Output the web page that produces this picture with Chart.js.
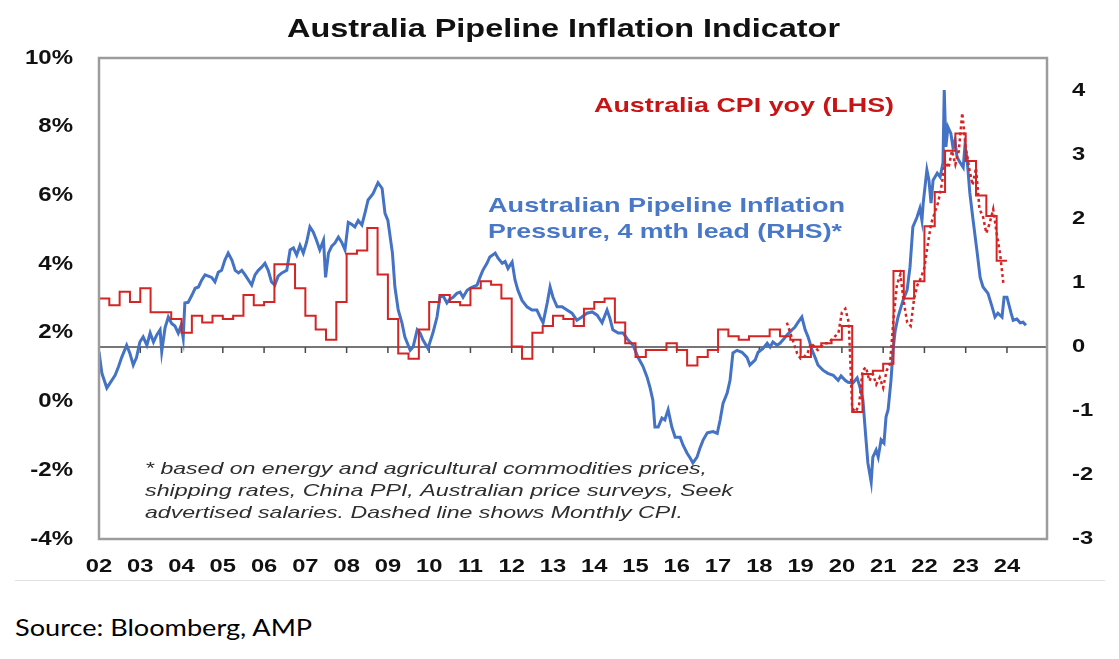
<!DOCTYPE html>
<html>
<head>
<meta charset="utf-8">
<script src="https://cdn.jsdelivr.net/npm/chart.js@4.4.1/dist/chart.umd.min.js"></script>
<style>
  html, body { margin: 0; padding: 0; background: #fff; }
  #wrap { position: relative; width: 1119px; height: 580px; }
  #rule { position: absolute; left: 15px; top: 580px; width: 1090px; border-top: 1px solid #e0e0e0; }
  #source { position: absolute; left: 15px; top: 612px; font-family: Lato, 'Open Sans', sans-serif; font-size: 24px; color: #000;
            white-space: nowrap; transform: scaleX(1.13); transform-origin: left top; }
</style>
</head>
<body>
<div id="wrap"><canvas id="chart" width="1119" height="580"></canvas></div>
<div id="rule"></div>
<div id="source">Source: Bloomberg, AMP</div>
<script>
// Australian Pipeline Inflation Pressure, 4 mth lead (RHS)
const blueDates = [
  2002.00, 2002.07, 2002.19, 2002.27, 2002.39, 2002.47, 2002.55, 2002.67, 2002.75, 2002.83, 2002.91, 2002.99,
  2003.07, 2003.16, 2003.24, 2003.32, 2003.40, 2003.48, 2003.52, 2003.60, 2003.68, 2003.76, 2003.84, 2003.92, 2003.99,
  2004.04, 2004.08, 2004.16, 2004.25, 2004.33, 2004.41, 2004.49, 2004.57, 2004.65, 2004.73, 2004.81, 2004.89, 2004.97,
  2005.05, 2005.13, 2005.22, 2005.30, 2005.38, 2005.46, 2005.54, 2005.62, 2005.70, 2005.78, 2005.86, 2005.94,
  2006.02, 2006.10, 2006.18, 2006.26, 2006.34, 2006.43, 2006.55, 2006.63, 2006.71, 2006.79, 2006.87, 2006.95,
  2007.03, 2007.11, 2007.19, 2007.27, 2007.35, 2007.44, 2007.49, 2007.56, 2007.64, 2007.72, 2007.80, 2007.88, 2007.96,
  2008.04, 2008.12, 2008.20, 2008.28, 2008.37, 2008.45, 2008.52, 2008.64, 2008.76, 2008.86, 2008.93,
  2009.00, 2009.11, 2009.17, 2009.25, 2009.34, 2009.41, 2009.54, 2009.61, 2009.71, 2009.78, 2009.85, 2009.97,
  2010.09, 2010.19, 2010.26, 2010.34, 2010.43, 2010.50, 2010.58, 2010.67, 2010.75, 2010.82, 2010.92, 2010.99,
  2011.06, 2011.16, 2011.23, 2011.30, 2011.40, 2011.47, 2011.60, 2011.67, 2011.77, 2011.84, 2011.91,
  2012.01, 2012.08, 2012.15, 2012.25, 2012.37, 2012.49, 2012.61, 2012.69, 2012.76, 2012.86, 2012.93,
  2013.00, 2013.10, 2013.22, 2013.34, 2013.46, 2013.58, 2013.70, 2013.82, 2013.95,
  2014.07, 2014.19, 2014.31, 2014.38, 2014.45, 2014.58, 2014.70, 2014.82, 2014.94,
  2015.06, 2015.18, 2015.28, 2015.35, 2015.42, 2015.47, 2015.55, 2015.64, 2015.71, 2015.79, 2015.88, 2015.96,
  2016.08, 2016.15, 2016.25, 2016.32, 2016.39, 2016.49, 2016.56, 2016.64, 2016.74, 2016.80, 2016.88, 2016.98,
  2017.05, 2017.12, 2017.22, 2017.29, 2017.36, 2017.46, 2017.58, 2017.70, 2017.77, 2017.90, 2017.97,
  2018.09, 2018.19, 2018.26, 2018.33, 2018.43, 2018.50, 2018.57, 2018.67, 2018.79, 2018.86, 2018.94,
  2019.03, 2019.11, 2019.18, 2019.28, 2019.35, 2019.42, 2019.54, 2019.66, 2019.79, 2019.91, 2019.98,
  2020.08, 2020.15, 2020.27, 2020.37, 2020.44, 2020.51, 2020.58, 2020.63, 2020.71, 2020.75, 2020.83, 2020.88, 2020.95,
  2021.02, 2021.07, 2021.12, 2021.19, 2021.24, 2021.29, 2021.36, 2021.48, 2021.58, 2021.65, 2021.72, 2021.82, 2021.89, 2021.94, 2021.97,
  2022.06, 2022.11, 2022.16, 2022.21, 2022.31, 2022.38, 2022.45, 2022.48, 2022.52, 2022.57, 2022.64, 2022.69, 2022.74, 2022.79, 2022.86, 2022.94, 2022.98,
  2023.03, 2023.10, 2023.18, 2023.27, 2023.35, 2023.42, 2023.54, 2023.64, 2023.71, 2023.78, 2023.88, 2023.93,
  2024.00, 2024.10, 2024.15, 2024.24, 2024.32, 2024.39, 2024.46
];
const blueValues = [
  -0.07, -0.41, -0.64, -0.56, -0.44, -0.31, -0.16, 0.03, -0.10, -0.28, -0.16, 0.08,
  0.16, 0.03, 0.22, 0.08, 0.19, 0.27, -0.07, 0.30, 0.47, 0.37, 0.33, 0.22, 0.34,
  0.14, 0.69, 0.70, 0.81, 0.92, 0.94, 1.05, 1.13, 1.11, 1.09, 1.02, 1.17, 1.20,
  1.36, 1.47, 1.36, 1.20, 1.16, 1.20, 1.13, 1.05, 0.97, 1.13, 1.20, 1.25,
  1.31, 1.20, 1.02, 0.97, 1.11, 1.16, 1.20, 1.52, 1.55, 1.44, 1.59, 1.47,
  1.64, 1.88, 1.80, 1.67, 1.52, 1.67, 1.09, 1.47, 1.58, 1.63, 1.72, 1.64, 1.52,
  1.95, 1.92, 1.88, 1.98, 1.91, 2.11, 2.30, 2.40, 2.57, 2.48, 2.09,
  1.98, 1.47, 0.94, 0.58, 0.38, 0.16, -0.05, 0.00, 0.27, 0.22, 0.11, -0.02,
  0.22, 0.47, 0.78, 0.80, 0.69, 0.75, 0.78, 0.84, 0.86, 0.78, 0.89, 0.92,
  0.94, 0.97, 1.09, 1.20, 1.31, 1.41, 1.47, 1.39, 1.31, 1.34, 1.23,
  1.33, 1.05, 0.89, 0.73, 0.63, 0.58, 0.58, 0.47, 0.38, 0.69, 0.94,
  0.78, 0.63, 0.63, 0.58, 0.53, 0.42, 0.47, 0.53, 0.55,
  0.50, 0.38, 0.58, 0.45, 0.27, 0.22, 0.22, 0.11, 0.03,
  -0.16, -0.30, -0.47, -0.63, -0.83, -1.25, -1.25, -1.11, -1.14, -0.98, -1.25, -1.41,
  -1.41, -1.53, -1.66, -1.73, -1.81, -1.72, -1.58, -1.45, -1.34, -1.33, -1.32, -1.35,
  -1.14, -0.88, -0.72, -0.52, -0.09, -0.05, -0.08, -0.16, -0.28, -0.20, -0.08,
  -0.02, 0.06, 0.00, 0.08, 0.03, 0.06, 0.11, 0.19, 0.27, 0.31, 0.39,
  0.47, 0.27, 0.16, -0.05, -0.16, -0.28, -0.36, -0.41, -0.44, -0.52, -0.45,
  -0.52, -0.55, -0.56, -0.48, -0.63, -0.83, -1.41, -1.81, -2.11, -1.72, -1.61, -1.72, -1.45,
  -1.50, -1.09, -0.98, -0.52, -0.05, 0.25, 0.47, 0.73, 0.89, 1.25, 1.88, 2.03, 2.17, 1.98, 2.25,
  2.77, 2.61, 2.25, 2.61, 2.72, 2.66, 2.88, 4.02, 3.13, 3.44, 3.34, 3.13, 3.23, 2.97, 2.89, 2.81, 3.13,
  2.97, 2.41, 1.98, 1.52, 1.09, 0.94, 0.84, 0.63, 0.47, 0.53, 0.47, 0.78,
  0.78, 0.53, 0.42, 0.44, 0.38, 0.39, 0.34
];

// Australia CPI yoy (LHS), quarterly from 2002 Q1
const cpiFirstYear = 2002;
const cpiQuarterly = [
  3.0, 2.8, 3.2, 2.9,   3.3, 2.6, 2.6, 2.4,   2.0, 2.5, 2.3, 2.5,   2.4, 2.5, 3.1, 2.8,
  2.9, 4.0, 4.0, 3.3,   2.5, 2.1, 1.8, 2.9,   4.3, 4.4, 5.05, 3.7,  2.4, 1.4, 1.25, 2.1,
  2.9, 3.1, 2.9, 2.8,   3.3, 3.5, 3.4, 3.0,   1.6, 1.25, 2.0, 2.2,  2.5, 2.4, 2.2, 2.7,
  2.9, 3.0, 2.3, 1.7,   1.3, 1.5, 1.5, 1.7,   1.5, 1.05, 1.3, 1.5,  2.1, 1.9, 1.8, 1.9,
  1.9, 2.1, 1.9, 1.8,   1.3, 1.6, 1.7, 1.8,   2.2, -0.3, 0.8, 0.9,  1.1, 3.8, 3.0, 3.5,
  5.1, 6.1, 7.3, 7.8,   7.0, 6.0, 5.4, 4.1
];

// Monthly CPI indicator yoy (LHS, dashed), from Sep 2018
const monthlyFirst = 2018 + 8 / 12;
const cpiMonthly = [
  2.3, 2.0, 1.7, 1.4,
  1.25, 1.3, 1.4, 1.7, 1.6, 1.5, 1.6, 1.7, 1.7, 1.8, 1.9, 2.0,
  2.6, 2.7, 2.3, -0.2, -0.3, -0.1, 0.9, 1.0, 0.6, 0.8, 0.5, 0.7,
  0.4, 0.9, 1.1, 2.4, 3.4, 3.7, 2.9, 2.3, 2.2, 3.0, 3.4, 3.6,
  3.9, 4.6, 5.2, 5.5, 5.8, 6.3, 7.0, 6.8, 7.3, 6.9, 7.3, 8.4,
  7.4, 6.8, 6.3, 6.8, 5.6, 5.4, 4.9, 5.2, 5.6, 4.9, 4.3, 3.4
];

const yearTicks = [2002, 2003, 2004, 2005, 2006, 2007, 2008, 2009, 2010, 2011, 2012, 2013,
                   2014, 2015, 2016, 2017, 2018, 2019, 2020, 2021, 2022, 2023, 2024];
const yearLabels = ['02', '03', '04', '05', '06', '07', '08', '09', '10', '11', '12', '13',
                    '14', '15', '16', '17', '18', '19', '20', '21', '22', '23', '24'];
const leftTicks = [-4, -2, 0, 2, 4, 6, 8, 10];
const rightTicks = [-3, -2, -1, 0, 1, 2, 3, 4];
const footnoteLines = [
  '* based on energy and agricultural commodities prices,',
  'shipping rates, China PPI, Australian price surveys, Seek',
  'advertised salaries. Dashed line shows Monthly CPI.'
];

const RED = '#d42424';
const BLUE = '#4472c4';

const bluePoints = blueDates.map((d, i) => ({ x: d, y: blueValues[i] }));
const cpiPoints = cpiQuarterly.map((v, i) => ({ x: cpiFirstYear + i / 4, y: v }));
// close the last quarter's step
cpiPoints.push({ x: cpiFirstYear + cpiQuarterly.length / 4, y: cpiQuarterly[cpiQuarterly.length - 1] });
const monthlyPoints = cpiMonthly.map((v, i) => ({ x: monthlyFirst + i / 12, y: v }));

// draw text squeezed/stretched horizontally
function drawText(ctx, text, x, y, font, color, align, sx, baseline) {
  ctx.save();
  ctx.font = font;
  ctx.fillStyle = color;
  ctx.textAlign = align;
  ctx.textBaseline = baseline || 'alphabetic';
  ctx.translate(x, y);
  ctx.scale(sx, 1);
  ctx.fillText(text, 0, 0);
  ctx.restore();
}
function fitText(ctx, text, left, y, font, color, width) {
  ctx.save();
  ctx.font = font;
  const w = ctx.measureText(text).width;
  ctx.restore();
  drawText(ctx, text, left, y, font, color, 'left', width / w);
}

const decor = {
  id: 'decor',
  beforeDatasetsDraw(chart) {
    const { ctx, chartArea: a, scales } = chart;
    const y0 = scales.y1.getPixelForValue(0);
    ctx.save();
    ctx.strokeStyle = '#4a4a4a';
    ctx.lineWidth = 1.5;
    ctx.beginPath();
    ctx.moveTo(a.left, y0);
    ctx.lineTo(a.right, y0);
    scales.x.ticks.forEach(t => {
      const px = scales.x.getPixelForValue(t.value);
      if (px > a.left + 2) {
        ctx.moveTo(px, y0);
        ctx.lineTo(px, y0 + 6);
      }
    });
    ctx.stroke();
    ctx.restore();
  },
  afterDraw(chart) {
    const { ctx, chartArea: a, scales } = chart;

    // plot frame
    ctx.save();
    ctx.strokeStyle = '#9c9c9c';
    ctx.lineWidth = 2.5;
    ctx.strokeRect(a.left, a.top, a.right - a.left, a.bottom - a.top);
    ctx.restore();

    // axis labels
    const axisFont = 'bold 20px "Liberation Sans", Arial, sans-serif';
    scales.y.ticks.forEach(t => {
      drawText(ctx, t.value + '%', 73, scales.y.getPixelForValue(t.value), axisFont, '#111', 'right', 1.2, 'middle');
    });
    scales.y1.ticks.forEach(t => {
      drawText(ctx, String(t.value), 1072, scales.y1.getPixelForValue(t.value), 'bold 19px "Liberation Sans", Arial, sans-serif', '#111', 'left', 1.25, 'middle');
    });
    scales.x.ticks.forEach((t, i) => {
      drawText(ctx, yearLabels[i], scales.x.getPixelForValue(t.value), 572, 'bold 19px "Liberation Sans", Arial, sans-serif', '#111', 'center', 1.25);
    });

    // title
    fitText(ctx, 'Australia Pipeline Inflation Indicator', 287, 37, 'bold 26px "Liberation Sans", Arial, sans-serif', '#111', 553);

    // series labels
    const lblFont = 'bold 21px "Liberation Sans", Arial, sans-serif';
    fitText(ctx, 'Australia CPI yoy (LHS)', 594, 112, lblFont, '#c81414', 300);
    fitText(ctx, 'Australian Pipeline Inflation', 488, 212, lblFont, '#4a78c8', 357);
    fitText(ctx, 'Pressure, 4 mth lead (RHS)*', 488, 238, lblFont, '#4a78c8', 354);

    // footnote
    const fnFont = 'italic 17px "Liberation Sans", Arial, sans-serif';
    const fnWidths = [562, 588, 538];
    footnoteLines.forEach((line, i) => {
      fitText(ctx, line, 145, 474 + i * 22, fnFont, '#2e2e2e', fnWidths[i]);
    });
  }
};

new Chart(document.getElementById('chart'), {
  type: 'line',
  data: {
    datasets: [
      {
        label: 'Australia CPI yoy (LHS)',
        data: cpiPoints,
        yAxisID: 'y',
        borderColor: RED,
        borderWidth: 2,
        stepped: 'before',
        pointRadius: 0
      },
      {
        label: 'Monthly CPI',
        data: monthlyPoints,
        yAxisID: 'y',
        borderColor: RED,
        borderWidth: 2.5,
        borderDash: [3, 3],
        pointRadius: 0,
        tension: 0
      },
      {
        label: 'Australian Pipeline Inflation Pressure, 4 mth lead (RHS)',
        data: bluePoints,
        yAxisID: 'y1',
        borderColor: BLUE,
        borderWidth: 3,
        pointRadius: 0,
        tension: 0
      }
    ]
  },
  options: {
    responsive: false,
    animation: false,
    layout: { padding: { top: 58, left: 0, right: 0, bottom: 0 } },
    plugins: {
      legend: { display: false },
      title: { display: false },
      tooltip: { enabled: false }
    },
    scales: {
      x: {
        type: 'linear',
        min: 2002,
        max: 2024.97,
        grid: { display: false, drawTicks: false },
        border: { display: false },
        ticks: { display: false, stepSize: 1 },
        afterBuildTicks: s => { s.ticks = yearTicks.map(v => ({ value: v })); },
        afterFit: s => { s.height = 41; }
      },
      y: {
        position: 'left',
        min: -4,
        max: 10,
        grid: { display: false, drawTicks: false },
        border: { display: false },
        ticks: { display: false, stepSize: 2 },
        afterBuildTicks: s => { s.ticks = leftTicks.map(v => ({ value: v })); },
        afterFit: s => { s.width = 99; }
      },
      y1: {
        position: 'right',
        min: -3,
        max: 4.52,
        grid: { display: false, drawTicks: false },
        border: { display: false },
        ticks: { display: false, stepSize: 1 },
        afterBuildTicks: s => { s.ticks = rightTicks.map(v => ({ value: v })); },
        afterFit: s => { s.width = 72; }
      }
    }
  },
  plugins: [decor]
});
</script>
</body>
</html>
